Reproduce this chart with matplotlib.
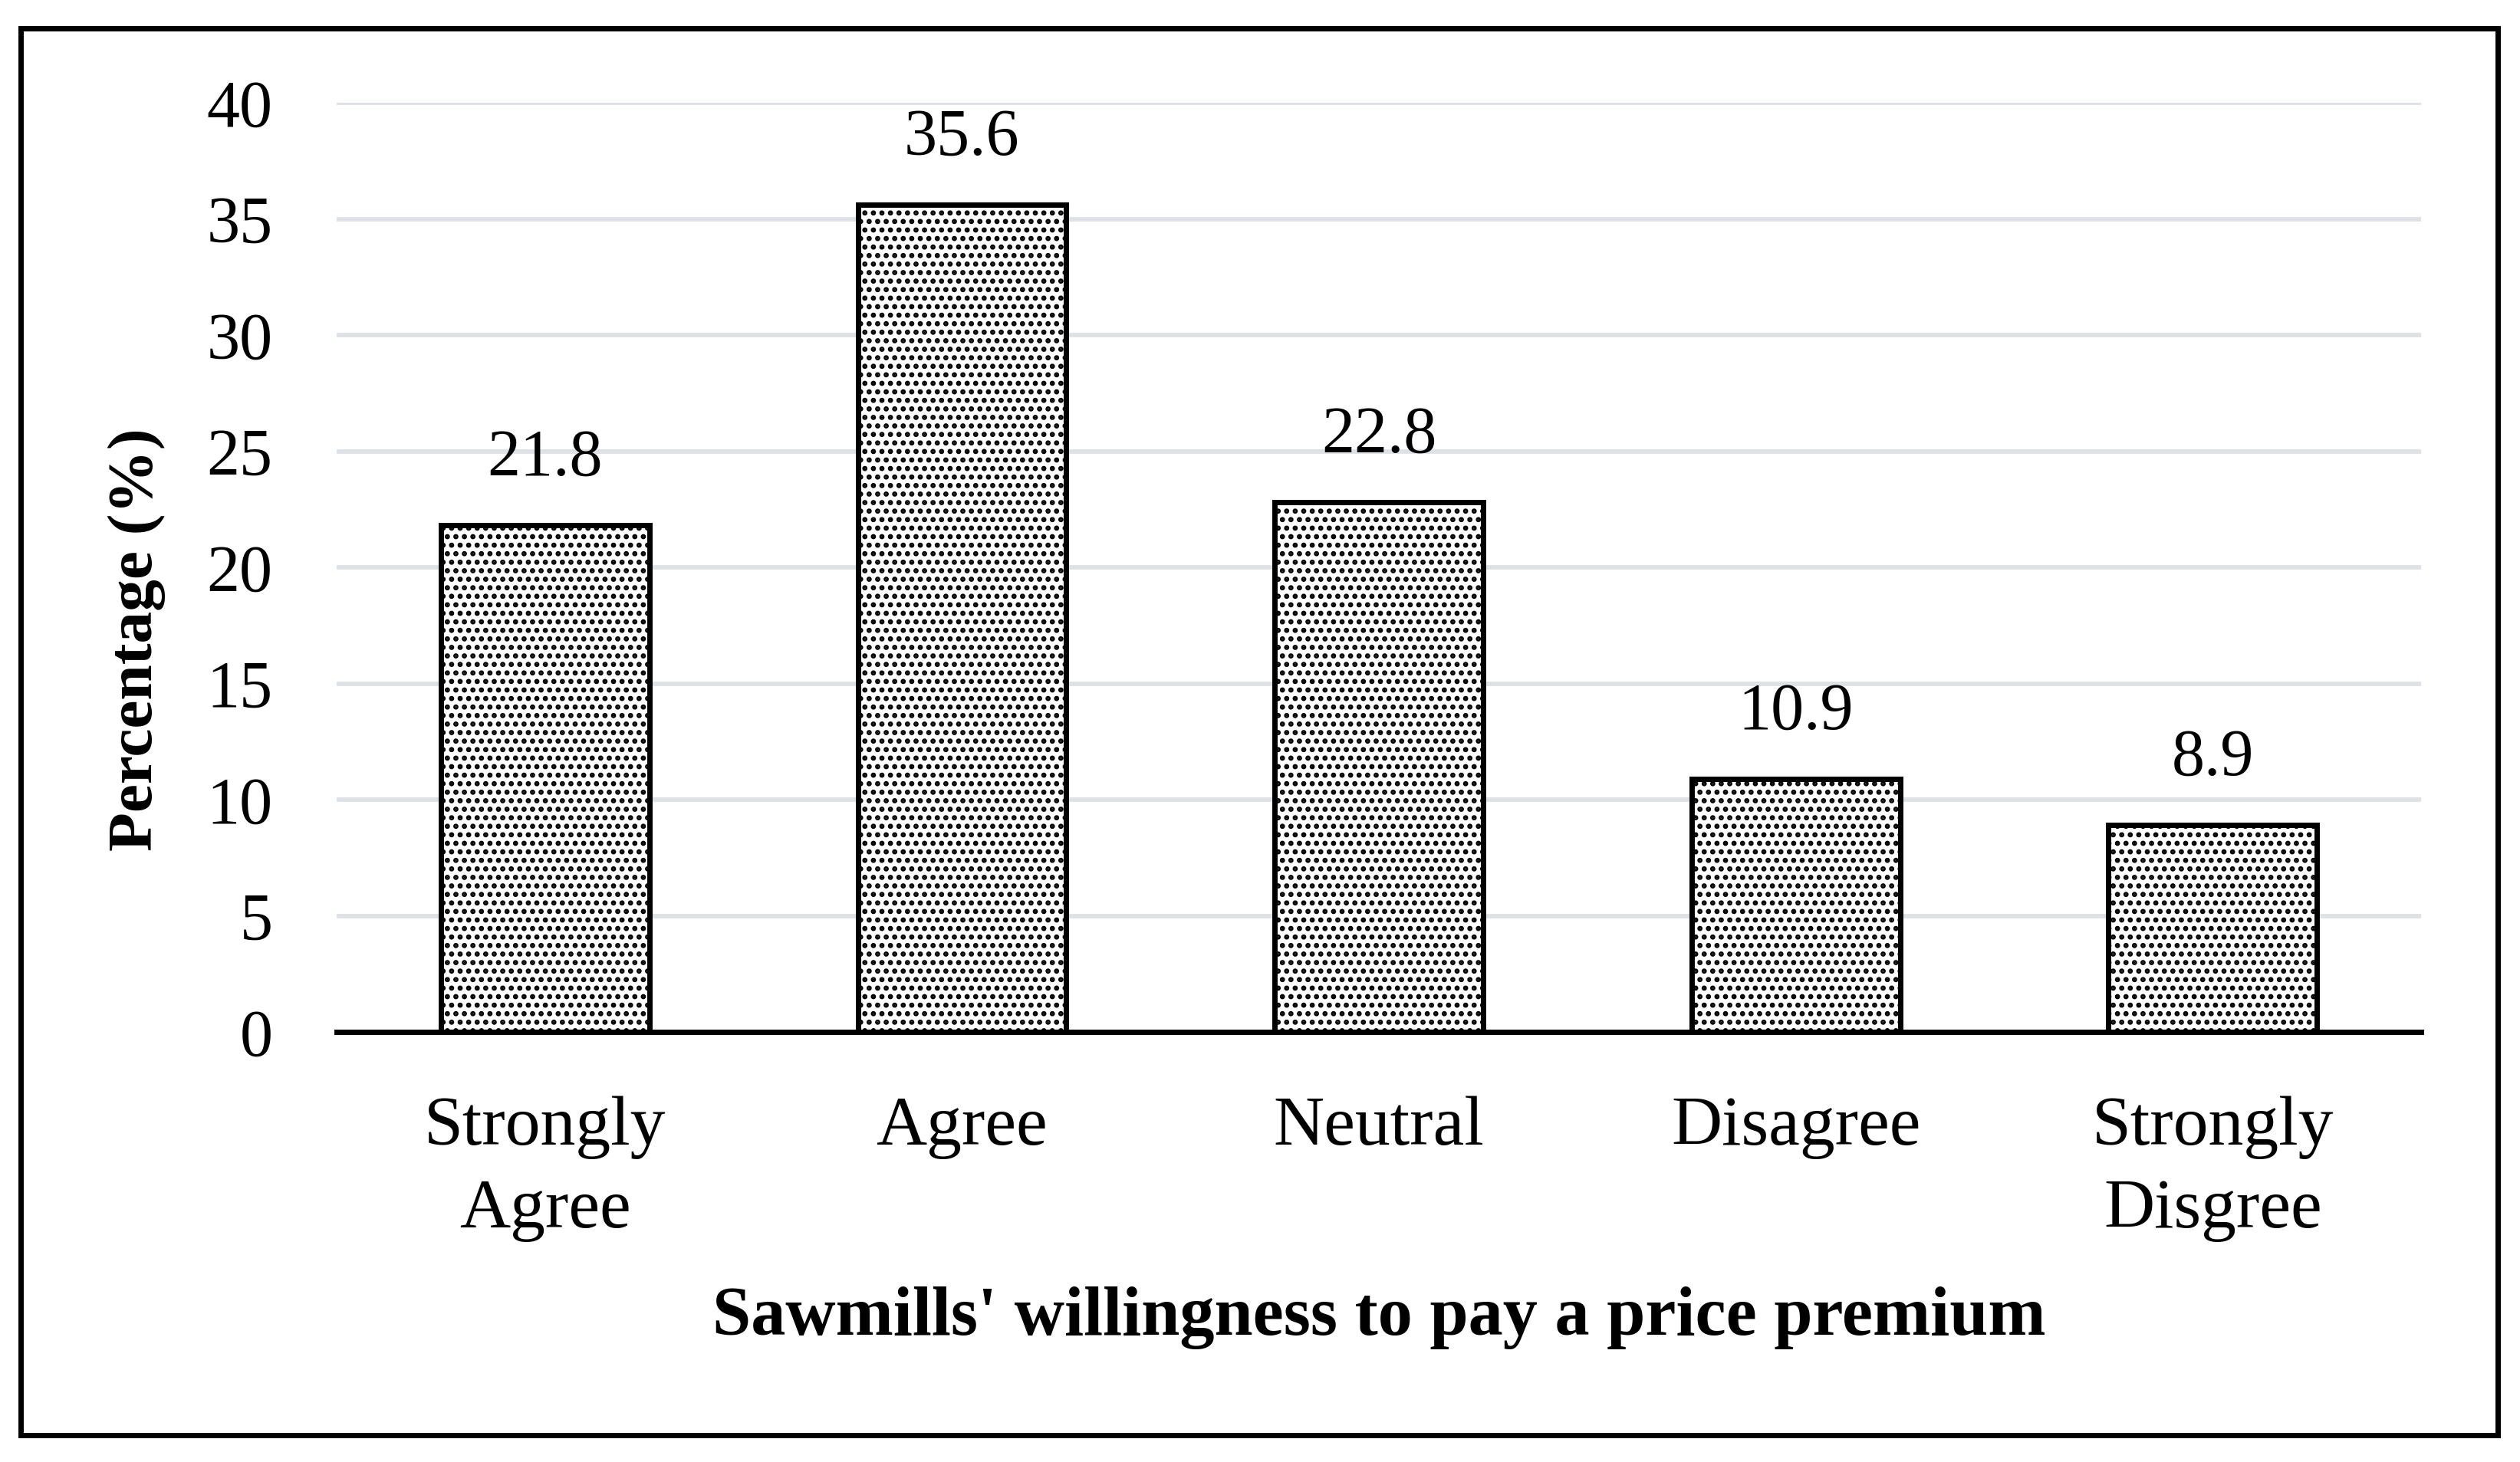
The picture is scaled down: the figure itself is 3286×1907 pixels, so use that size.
import matplotlib
matplotlib.use("Agg")
import matplotlib.pyplot as plt
from matplotlib.patches import Rectangle

# data
categories = ["Strongly\nAgree", "Agree", "Neutral", "Disagree", "Strongly\nDisgree"]
percentages = [21.8, 35.6, 22.8, 10.9, 8.9]
y_ticks = [0, 5, 10, 15, 20, 25, 30, 35, 40]

plt.rcParams['font.family'] = ['Liberation Serif', 'DejaVu Serif']
plt.rcParams['hatch.linewidth'] = 1.6
plt.rcParams['hatch.color'] = 'black'

W, H = 3287, 1907
fig = plt.figure(figsize=(W / 200, H / 200), dpi=200)
ax = fig.add_axes([439 / W, 1 - 1346 / H, (3157 - 439) / W, (1346 - 134) / H])

x = list(range(len(categories)))
bars = ax.bar(x, percentages, width=0.5, color='white', edgecolor='black',
              linewidth=2.5, hatch='...', zorder=3)

for xi, v in zip(x, percentages):
    ax.annotate(f"{v}", (xi, v), xytext=(0, 31), textcoords='offset points',
                ha='center', va='center', fontsize=31)

ax.set_xlim(-0.5, len(categories) - 0.5)
ax.set_ylim(0, 40)
ax.set_yticks(y_ticks)
ax.set_xticks(x)
ax.set_xticklabels(categories, fontsize=33, linespacing=1.4)
ax.tick_params(axis='y', length=0, pad=30, labelsize=31)
ax.tick_params(axis='x', length=0, pad=30)

ax.yaxis.grid(True, color='#dde2e9', linewidth=2.1, zorder=0)
ax.set_axisbelow(True)
for s in ['top', 'right', 'left']:
    ax.spines[s].set_visible(False)
ax.spines['bottom'].set_linewidth(2.5)
ax.spines['bottom'].set_zorder(4)

fig.text(1798 / W, 1 - 1719 / H, "Sawmills' willingness to pay a price premium",
         ha='center', va='center', fontsize=32.5, fontweight='bold')
fig.text(178 / W, 1 - 834 / H, "Percentage (%)", ha='center', va='center',
         rotation=90, fontsize=30, fontweight='bold')

# outer frame
fig.add_artist(Rectangle((27 / W, 1 - 1872 / H), (3257 - 27) / W, (1872 - 37) / H,
                         transform=fig.transFigure, fill=False, lw=2.5, ec='black'))

fig.savefig("out.png", dpi=200, facecolor='white')
